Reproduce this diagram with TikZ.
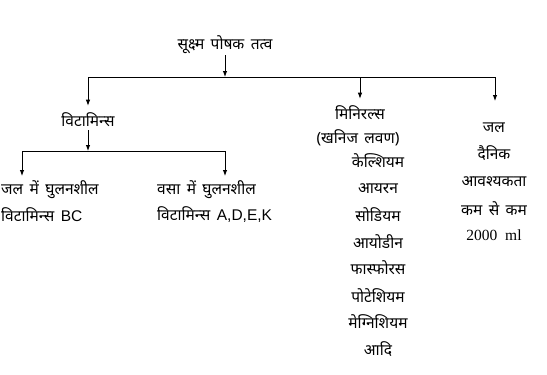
\documentclass[tikz,border=0pt]{standalone}
\usepackage{fontspec}
\setmainfont{Liberation Serif}
\newfontfamily\hindi[Script=Devanagari, WordSpace=1.6]{Noto Sans}
\newfontfamily\arialfont{Liberation Sans}
\usetikzlibrary{arrows.meta,positioning,calc}

\begin{document}
\begin{tikzpicture}[x=1pt,y=-1pt,
    txt/.style={font=\hindi\fontsize{15.5}{18}\selectfont, inner sep=1pt},
    arr/.style={-{Latex[length=6pt,width=4.5pt]}, line width=0.9pt},
    bar/.style={line width=0.9pt}]
    \useasboundingbox (0,0) rectangle (547,375);
    % top
    \node[txt] (title) at (225,45) {सूक्ष्म पोषक तत्व};
    \coordinate (jtop) at (225,77);
    \coordinate (jvit) at (88,77);
    \coordinate (jmin) at (360,77);
    \coordinate (jwat) at (495,77);
    \draw[arr] (title.south) -- (jtop);
    \draw[bar] (jvit) -- (jwat);
    % vitamins
    \node[txt] (vit) at (88,120) {विटामिन्स};
    \draw[arr, shorten >=6pt] (jvit) -- (vit.north);
    \coordinate (jleft) at (22,151);
    \coordinate (jright) at (225,151);
    \coordinate (jv) at (88,151);
    \draw[arr, shorten <=2pt] (vit.south) -- (jv);
    \draw[bar] (jleft) -- (jright);
    \node[txt, anchor=west] (wat1) at (0,190) {जल में घुलनशील};
    \node[txt, anchor=west] (wat2) at (0,215) {विटामिन्स {\arialfont BC}};
    \node[txt, anchor=west] (fat1) at (156,190) {वसा में घुलनशील};
    \node[txt, anchor=west] (fat2) at (156,215) {विटामिन्स {\arialfont A,D,E,K}};
    \draw[arr] (jleft) -- (22,176);
    \draw[arr] (jright) -- (225,176);
    % minerals
    \node[txt] (min) at (360,113) {मिनिरल्स};
    \node[txt] (minb) at (358,138) {(खनिज लवण)};
    \draw[arr, shorten >=6pt] (jmin) -- (min.north);
    \foreach \name/\yy [count=\i] in {केल्शियम/161, आयरन/189, सोडियम/215, आयोडीन/242,
        फास्फोरस/268, पोटेशियम/296, मेग्निशियम/322, आदि/349}
        \node[txt] (m\i) at (378,\yy) {\name};
    % water
    \node[txt] (w1) at (494,128) {जल};
    \node[txt] (w2) at (494,153) {दैनिक};
    \node[txt] (w3) at (494,182) {आवश्यकता};
    \node[txt] (w4) at (494,209) {कम से कम};
    \node[txt, font=\fontsize{15.5}{18}\selectfont] (w5) at (494,235) {2000\hspace{0.5em}ml};
    \draw[arr] (jwat) -- (495,101);
\end{tikzpicture}
\end{document}
